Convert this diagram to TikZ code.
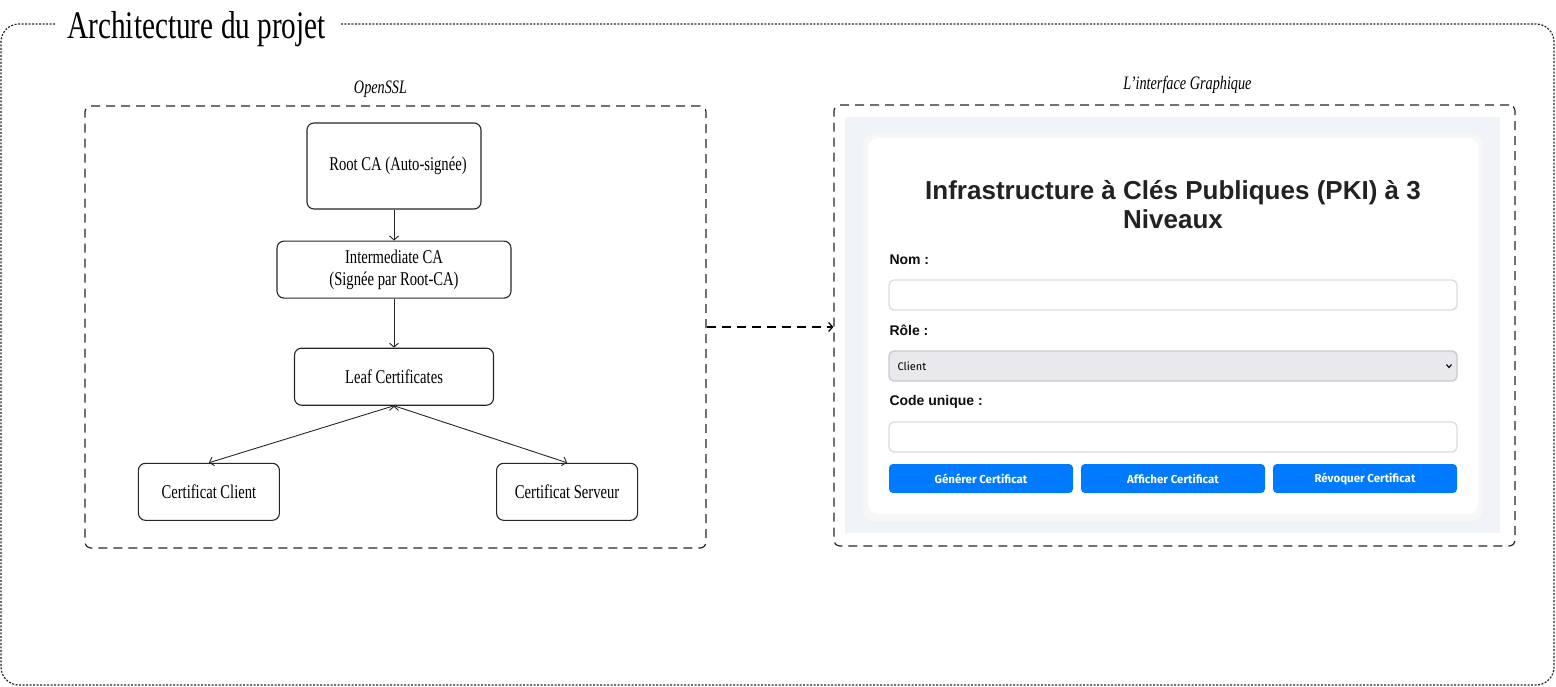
\documentclass[tikz,border=0pt]{standalone}
\usepackage{fontspec}
\setmainfont{Liberation Serif}[FakeStretch=0.75]
\newfontfamily\uifont{Liberation Sans}
\newfontfamily\btnfont{Fira Sans}
\usepackage{tikz}
\usetikzlibrary{positioning}
\usetikzlibrary{arrows.meta}
\definecolor{pagebg}{HTML}{F0F3F8}
\definecolor{btnblue}{HTML}{007BFF}
\definecolor{selectgray}{HTML}{E9E9ED}
\definecolor{selectline}{HTML}{C9C9CE}
\definecolor{fieldline}{HTML}{DCDDE0}
\definecolor{inktext}{HTML}{222222}

\begin{document}
\begin{tikzpicture}[x=1pt, y=-1pt, >={Straight Barb[length=4pt, width=9pt]}, line width=1pt]
    \tikzstyle{certbox}=[draw=black!85, line width=1.1pt, rounded corners=7pt, align=center,
        font=\fontsize{19.5}{22}\selectfont]
    \tikzstyle{groupbox}=[draw=black!85, line width=1.2pt, dash pattern=on 9pt off 6pt, rounded corners=6pt]
    \tikzstyle{grouplabel}=[anchor=base, font=\itshape\fontsize{19}{22}\selectfont]
    \tikzstyle{fieldlabel}=[anchor=base west, inner sep=0pt, text=black!95, font=\uifont\bfseries\fontsize{14}{16}\selectfont]
    \tikzstyle{inputfield}=[draw=fieldline, line width=1.4pt, fill=white, rounded corners=5pt,
        minimum width=568pt, minimum height=30pt]
    \tikzstyle{uibutton}=[fill=btnblue, rounded corners=4pt, minimum width=184pt, minimum height=29pt,
        text=white, font=\btnfont\bfseries\fontsize{11.5}{13}\selectfont]
    \useasboundingbox (0,0) rectangle (1556,686);
    % outer frame
    \node[anchor=base west, inner sep=0pt, font=\fontsize{39}{44}\selectfont] (title) at (67,38) {Architecture du projet};
    \draw[draw=black!85, line width=1.2pt, dash pattern=on 2pt off 1.5pt, rounded corners=18pt]
        (55,24) -| (1,685) -| (1554,24) -- (340,24);
    % OpenSSL side
    \node[groupbox, minimum width=621pt, minimum height=442pt] (openssl) at (395.5,327) {};
    \node[grouplabel] (openssllabel) at ([xshift=-15pt, yshift=12pt]openssl.north) {OpenSSL};
    \node[certbox, minimum width=174pt, minimum height=86pt] (root) at (394,166) {\hspace*{8pt}Root CA (Auto-signée)};
    \node[certbox, minimum width=234pt, minimum height=57pt] (inter) [below=31pt of root]
        {Intermediate CA\\(Signée par Root-CA)};
    \node[certbox, minimum width=199pt, minimum height=57pt] (leaf) [below=49pt of inter] {Leaf Certificates};
    \node[certbox, minimum width=141pt, minimum height=57pt] (client) [below left=57pt and 14pt of leaf] {Certificat Client};
    \node[certbox, minimum width=141pt, minimum height=57pt] (server) [below right=57pt and 2pt of leaf] {Certificat Serveur};
    \path[->, draw=black!85, line width=0.9pt]
    (root)
      edge (inter)
    (inter)
      edge (leaf)
    (leaf.south)
      edge (client.north)
      edge (server.north);
    % interface side
    \node[groupbox, minimum width=681pt, minimum height=441pt] (gui) at (1174.5,325.5) {};
    \node[grouplabel] (guilabel) at ([xshift=13pt, yshift=15pt]gui.north) {L'interface Graphique};
    \fill[pagebg] (845,117) rectangle (1500,533);
    \fill[black!6, rounded corners=12pt] (865,136) rectangle (1481,518);
    \fill[black!3, rounded corners=12pt] (863,134) rectangle (1483,521);
    \fill[white, rounded corners=10pt] (868,138) rectangle (1478,514);
    \node[align=center, text=inktext, font=\uifont\bfseries\fontsize{26}{29}\selectfont] (pkititle) at (1173,205)
        {Infrastructure à Clés Publiques (PKI) à 3\\Niveaux};
    \node[fieldlabel] (nomlabel) at (889,264) {Nom :};
    \node[inputfield] (nomfield) at (1173,295) {};
    \node[fieldlabel] (rolelabel) at (889,335) {Rôle :};
    \node[inputfield, fill=selectgray, draw=selectline] (rolefield) at (1173,366) {};
    \node[anchor=west, inner sep=0pt, font=\btnfont\fontsize{11}{13}\selectfont] (roleval) at (897,366) {Client};
    \draw[line width=1.1pt] (1446.5,364.5) -- (1449,367.5) -- (1451.5,364.5);
    \node[fieldlabel] (codelabel) at (889,405) {Code unique :};
    \node[inputfield] (codefield) at (1173,437) {};
    \node[uibutton] (genbtn) at (981,478.5) {Générer Certificat};
    \node[uibutton] (showbtn) at (1173,478.5) {Afficher Certificat};
    \node[uibutton] (revokebtn) at (1365,478.5) {Révoquer Certificat};
    % link between the two sides
    \draw[->, line width=1.2pt, dash pattern=on 9pt off 6pt] (openssl.east) -- (openssl.east -| gui.west);
\end{tikzpicture}
\end{document}
